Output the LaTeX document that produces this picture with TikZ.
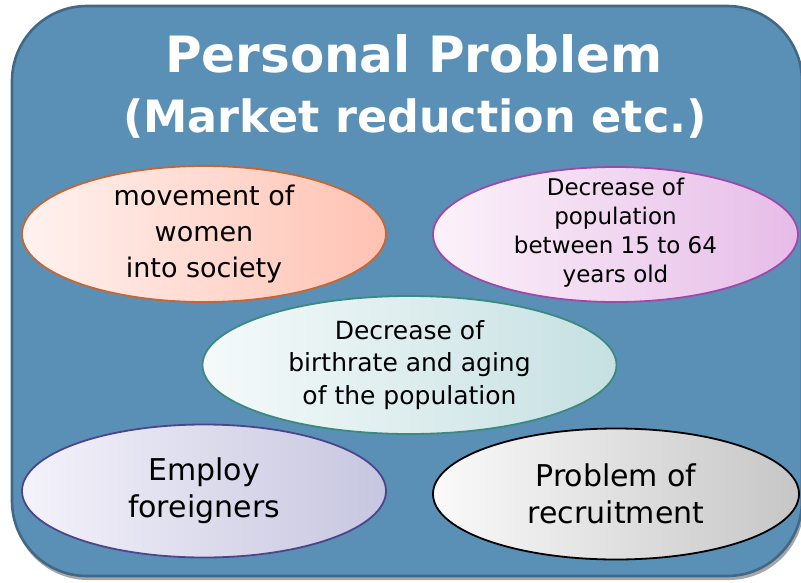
\documentclass[tikz,border=0pt]{standalone}
\usepackage{fontspec}
\setmainfont{DejaVu Sans}
\usetikzlibrary{shapes.geometric,shadings}

\definecolor{panelfill}{RGB}{91,144,182}
\definecolor{panelline}{RGB}{65,104,135}
\definecolor{orangeL}{RGB}{255,242,240}
\definecolor{orangeR}{RGB}{255,194,178}
\definecolor{orangeB}{RGB}{200,102,50}
\definecolor{purpleL}{RGB}{252,242,250}
\definecolor{purpleR}{RGB}{230,188,232}
\definecolor{purpleB}{RGB}{160,72,170}
\definecolor{tealL}{RGB}{245,250,250}
\definecolor{tealR}{RGB}{198,224,226}
\definecolor{tealB}{RGB}{58,138,128}
\definecolor{violetL}{RGB}{244,242,250}
\definecolor{violetR}{RGB}{198,198,224}
\definecolor{violetB}{RGB}{75,70,140}
\definecolor{greyL}{RGB}{250,250,250}
\definecolor{greyR}{RGB}{198,198,198}

\tikzset{
  bubble/.style={ellipse, inner sep=0pt, line width=1.8pt, shading=axis, shading angle=90},
  bubbletext/.style={align=center, inner sep=0pt, text=black},
  titletext/.style={anchor=base, inner sep=0pt, text=white, font=\bfseries},
}

\begin{document}
\begin{tikzpicture}[x=1pt, y=-1pt]
  \useasboundingbox (0,0) rectangle (801,582);
  \begin{scope}
    \clip (0,0) rectangle (801,582);
    % soft drop shadow and the rounded panel
    \fill[black!35, rounded corners=75pt] (13,9) rectangle (804,580);
    \draw[fill=panelfill, draw=panelline, line width=2.6pt, rounded corners=75pt]
      (12,6) rectangle (802,576);
  \end{scope}

  % heading
  \node[titletext] (t1) at (414,72) {\fontsize{50}{60}\selectfont Personal Problem};
  \node[titletext] (t2) at (415,132) {\fontsize{44.5}{54}\selectfont (Market reduction etc.)};

  % ellipses
  \node[bubble, draw=orangeB, left color=orangeL, right color=orangeR,
        minimum width=364pt, minimum height=136pt] (women) at (204,234) {};
  \node[bubble, draw=purpleB, left color=purpleL, right color=purpleR,
        minimum width=365pt, minimum height=135pt] (workage) at (615.5,234.5) {};
  \node[bubble, draw=tealB, left color=tealL, right color=tealR,
        minimum width=414pt, minimum height=138pt] (birth) at (409.5,365) {};
  \node[bubble, draw=violetB, left color=violetL, right color=violetR,
        minimum width=364pt, minimum height=133pt] (foreign) at (204,491) {};
  \node[bubble, draw=black, left color=greyL, right color=greyR,
        minimum width=366pt, minimum height=131pt] (recruit) at (616,494) {};

  % labels
  \node[bubbletext, font=\fontsize{27}{36}\selectfont] (womenL) at (women.center)
    {movement of\\women\\into society};
  \node[bubbletext, font=\fontsize{23}{29}\selectfont, yshift=2pt] (workageL) at (workage.center)
    {Decrease of\\population\\between 15 to 64\\years old};
  \node[bubbletext, font=\fontsize{25}{32.5}\selectfont] (birthL) at (birth.center)
    {Decrease of\\birthrate and aging\\of the population};
  \node[bubbletext, font=\fontsize{30}{37}\selectfont] (foreignL) at (foreign.center)
    {Employ\\foreigners};
  \node[bubbletext, font=\fontsize{30}{37}\selectfont] (recruitL) at (recruit.center)
    {Problem of\\recruitment};
\end{tikzpicture}
\end{document}
